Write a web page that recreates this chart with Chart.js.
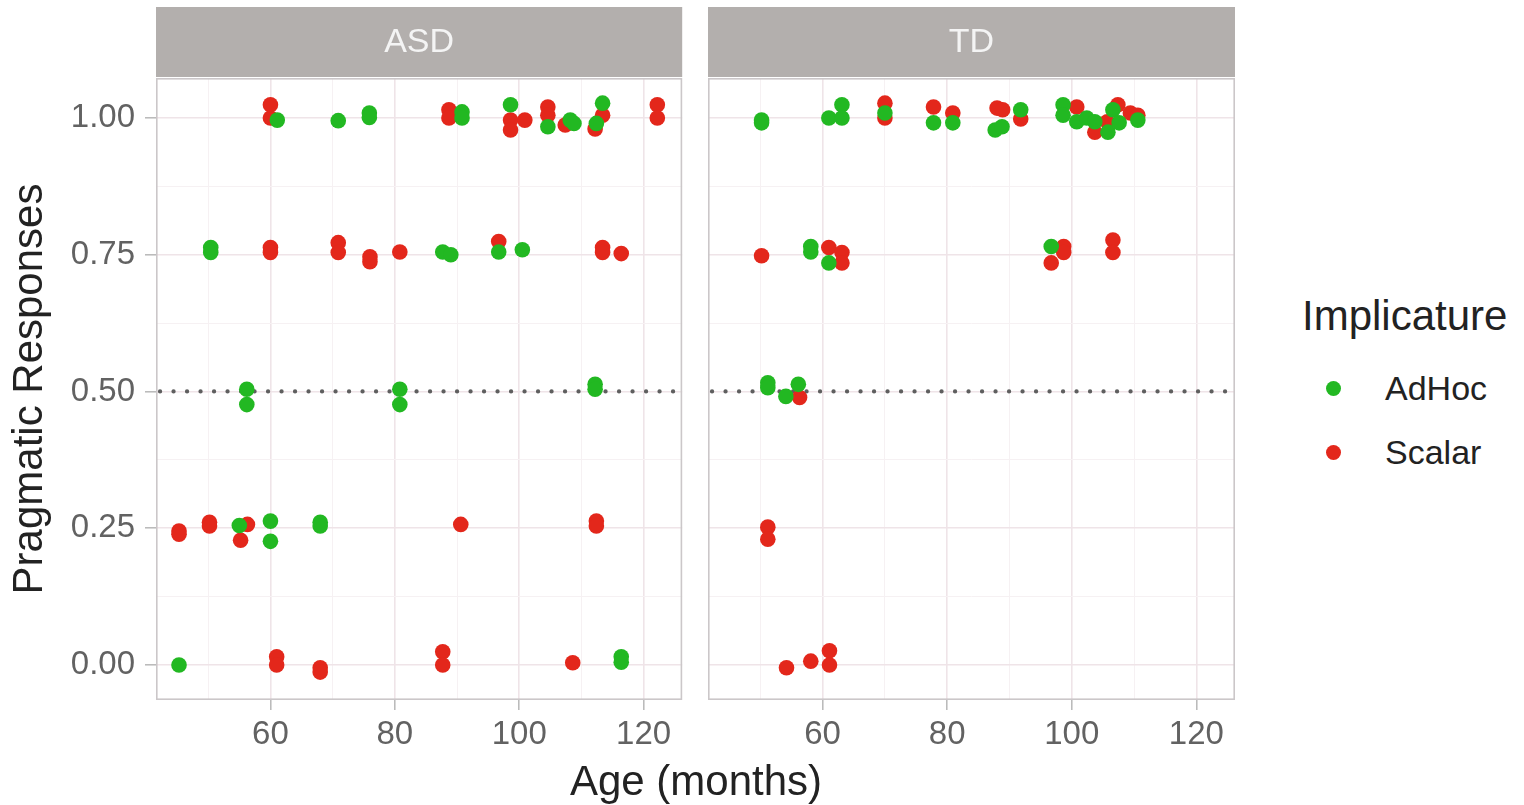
<!DOCTYPE html>
<html>
<head>
<meta charset="utf-8">
<title>Pragmatic responses by age</title>
<script src="https://cdn.jsdelivr.net/npm/chart.js@4.4.1/dist/chart.umd.min.js"></script>
<style>
  html, body { margin: 0; padding: 0; background: #ffffff; }
  body { width: 1524px; height: 805px; overflow: hidden; font-family: "Liberation Sans", Arial, sans-serif; }
  #fig { position: relative; width: 1524px; height: 805px; }
  #fig canvas { position: absolute; top: 0; }
  #xtitle { position: absolute; left: 0; width: 1392px; top: 757px; text-align: center;
            font-size: 42px; line-height: 48px; color: #222; }
  #legend { position: absolute; left: 1302px; top: 290px; color: #222; }
  #legend .ttl { font-size: 42px; line-height: 52px; margin-bottom: 14px; }
  #legend .item { position: relative; height: 64px; font-size: 34px; line-height: 64px; padding-left: 83px; }
  #legend .dot { position: absolute; left: 24px; top: 25px; width: 15px; height: 15px; border-radius: 50%; }
</style>
</head>
<body>
<div id="fig">
  <canvas id="asd" width="690" height="805" style="left:0px"></canvas>
  <canvas id="td" width="560" height="805" style="left:690px"></canvas>
  <div id="xtitle">Age (months)</div>
  <div id="legend"></div>
</div>
<script>
// ---- data: jittered observations (age in months, proportion of pragmatic responses)
const PANELS = ['ASD', 'TD'];
const SERIES = ['AdHoc', 'Scalar'];
const SERIES_COLORS = ['#22b822', '#e3271b'];

const ASD_ADHOC_AGE  = [61.1, 70.9, 75.9, 75.9, 90.8, 90.8, 98.6, 104.6, 108.2, 108.8, 113.4, 112.4,
                        50.4, 50.4, 87.7, 89.0, 96.7, 100.5,
                        56.2, 56.2, 80.8, 80.8, 112.2, 112.2,
                        55.0, 60.0, 60.0, 68.0, 68.0,
                        45.3, 116.4, 116.4];
const ASD_ADHOC_RESP = [0.996, 0.995, 1.009, 1.001, 1.011, 1.000, 1.024, 0.984, 0.996, 0.990, 1.027, 0.990,
                        0.763, 0.754, 0.755, 0.750, 0.755, 0.759,
                        0.504, 0.476, 0.504, 0.476, 0.513, 0.504,
                        0.255, 0.263, 0.226, 0.261, 0.254,
                        0.000, 0.015, 0.005];

const ASD_SCALAR_AGE  = [60.0, 60.0, 88.7, 88.7, 98.6, 98.6, 100.9, 104.6, 104.6, 107.4, 113.4, 112.2, 122.2, 122.2,
                         60.0, 60.0, 70.9, 70.9, 76.0, 76.0, 80.8, 96.7, 113.4, 113.4, 116.4,
                         45.3, 45.3, 50.2, 50.2, 56.3, 55.2, 90.6, 112.4, 112.4,
                         61.0, 61.0, 68.0, 68.0, 87.7, 87.7, 108.6];
const ASD_SCALAR_RESP = [1.024, 1.000, 1.015, 1.000, 0.996, 0.978, 0.996, 1.020, 1.005, 0.987, 1.005, 0.980, 1.024, 1.000,
                         0.763, 0.754, 0.772, 0.754, 0.746, 0.737, 0.755, 0.774, 0.763, 0.754, 0.752,
                         0.245, 0.239, 0.261, 0.254, 0.257, 0.228, 0.257, 0.263, 0.254,
                         0.015, 0.000, -0.005, -0.013, 0.024, 0.000, 0.004];

const TD_ADHOC_AGE  = [50.2, 50.2, 61.0, 63.1, 63.1, 70.0, 77.8, 80.9, 87.7, 88.8, 91.8, 98.6, 98.6, 100.8,
                       102.4, 103.7, 105.8, 106.6, 107.6, 110.6,
                       58.1, 58.1, 61.0, 96.7,
                       51.2, 51.2, 54.1, 56.1];
const TD_ADHOC_RESP = [0.996, 0.991, 1.000, 1.024, 1.000, 1.009, 0.991, 0.991, 0.978, 0.984, 1.015, 1.024, 1.005, 0.993,
                       1.000, 0.993, 0.974, 1.015, 0.991, 0.996,
                       0.765, 0.755, 0.735, 0.765,
                       0.516, 0.507, 0.491, 0.513];

const TD_SCALAR_AGE  = [70.0, 70.0, 77.8, 80.9, 88.0, 88.9, 91.8, 100.8, 103.7, 105.7, 107.4, 109.4, 110.6,
                        50.2, 61.0, 63.1, 63.1, 96.7, 98.7, 98.7, 106.6, 106.6,
                        56.3,
                        51.2, 51.2,
                        54.2, 58.1, 61.1, 61.1];
const TD_SCALAR_RESP = [1.027, 1.000, 1.020, 1.009, 1.018, 1.015, 0.998, 1.020, 0.974, 0.993, 1.024, 1.009, 1.005,
                        0.748, 0.763, 0.754, 0.735, 0.735, 0.765, 0.754, 0.777, 0.754,
                        0.489,
                        0.252, 0.230,
                        -0.005, 0.007, 0.026, 0.000];

// ---- axes
const X_RANGE = [41.6, 126.2];
const X_TICKS = [60, 80, 100, 120];
const X_TICK_LABELS = ['60', '80', '100', '120'];
const X_MINOR = [50, 70, 90, 110];
const Y_RANGE = [-0.064, 1.073];
const Y_TICKS = [0, 0.25, 0.5, 0.75, 1];
const Y_TICK_LABELS = ['0.00', '0.25', '0.50', '0.75', '1.00'];
const Y_MINOR = [0.125, 0.375, 0.625, 0.875];
const REF_LEVEL = 0.5;

// ---- styling
const FONT = '"Liberation Sans", Arial, sans-serif';
const STRIP_FILL = '#b3afad';
const GRID_MAJOR = '#efe4e8';
const GRID_MINOR = '#f6f1f3';
const PANEL_BORDER = '#cbc7c9';
const TICK_COLOR = '#b8b8b8';
const TEXT_COLOR = '#626262';

const zip = (xs, ys) => xs.map((x, i) => ({ x: x, y: ys[i] }));
const PANEL_DATA = {
  ASD: [zip(ASD_ADHOC_AGE, ASD_ADHOC_RESP), zip(ASD_SCALAR_AGE, ASD_SCALAR_RESP)],
  TD:  [zip(TD_ADHOC_AGE, TD_ADHOC_RESP),   zip(TD_SCALAR_AGE, TD_SCALAR_RESP)]
};

// facet strip, panel frame and the dotted reference line
const facetDecor = {
  id: 'facetDecor',
  beforeDraw(chart, args, opts) {
    const { ctx, chartArea: a } = chart;
    ctx.save();
    ctx.fillStyle = STRIP_FILL;
    ctx.fillRect(a.left, a.top - 71, a.right - a.left, 70);
    ctx.fillStyle = '#f4f4f4';
    ctx.font = '34px ' + FONT;
    ctx.textAlign = 'center';
    ctx.textBaseline = 'middle';
    ctx.fillText(opts.label, (a.left + a.right) / 2, a.top - 35);
    ctx.restore();
  },
  beforeDatasetsDraw(chart) {
    const { ctx, chartArea: a } = chart;
    const y = chart.scales.y.getPixelForValue(REF_LEVEL);
    ctx.save();
    ctx.strokeStyle = PANEL_BORDER;
    ctx.lineWidth = 1.6;
    ctx.strokeRect(a.left + 0.8, a.top + 0.8, a.right - a.left - 1.6, a.bottom - a.top - 1.6);
    ctx.beginPath();
    ctx.setLineDash([0.1, 13.4]);
    ctx.lineCap = 'round';
    ctx.lineWidth = 4.2;
    ctx.strokeStyle = '#5f5f5f';
    ctx.moveTo(a.left + 4, y);
    ctx.lineTo(a.right, y);
    ctx.stroke();
    ctx.restore();
  }
};

function buildChart(canvasId, panel, showY) {
  const data = PANEL_DATA[panel];
  const isMajorX = v => X_TICKS.includes(v);
  const isMajorY = v => Y_TICKS.some(t => Math.abs(t - v) < 1e-9);
  return new Chart(document.getElementById(canvasId), {
    type: 'scatter',
    data: {
      datasets: SERIES.map((name, i) => ({
        label: name,
        data: data[i],
        backgroundColor: SERIES_COLORS[i],
        borderWidth: 0,
        pointRadius: 7.8,
        pointHoverRadius: 7.8
      }))
    },
    options: {
      responsive: false,
      animation: false,
      events: [],
      devicePixelRatio: 1,
      layout: { padding: { top: 78, right: showY ? 6 : 15, left: 0, bottom: 0 } },
      plugins: {
        legend: { display: false },
        tooltip: { enabled: false },
        facetDecor: { label: panel }
      },
      scales: {
        x: {
          type: 'linear',
          min: X_RANGE[0], max: X_RANGE[1],
          afterBuildTicks: s => { s.ticks = X_MINOR.concat(X_TICKS).sort((a, b) => a - b).map(v => ({ value: v })); },
          afterFit: s => { s.height = 105; },
          border: { display: false },
          grid: {
            color: c => isMajorX(c.tick.value) ? GRID_MAJOR : GRID_MINOR,
            lineWidth: c => isMajorX(c.tick.value) ? 1.6 : 1,
            tickColor: c => isMajorX(c.tick.value) ? TICK_COLOR : 'rgba(0,0,0,0)',
            tickLength: 10,
            tickWidth: 1.5
          },
          ticks: {
            autoSkip: false,
            maxRotation: 0,
            padding: 5,
            color: TEXT_COLOR,
            font: { family: FONT, size: 33 },
            callback: v => { const k = X_TICKS.indexOf(v); return k < 0 ? '' : X_TICK_LABELS[k]; }
          }
        },
        y: {
          type: 'linear',
          min: Y_RANGE[0], max: Y_RANGE[1],
          afterBuildTicks: s => { s.ticks = Y_MINOR.concat(Y_TICKS).sort((a, b) => a - b).map(v => ({ value: v })); },
          afterFit: s => { s.width = showY ? 156 : 18; },
          border: { display: false },
          grid: {
            color: c => isMajorY(c.tick.value) ? GRID_MAJOR : GRID_MINOR,
            lineWidth: c => isMajorY(c.tick.value) ? 1.6 : 1,
            tickColor: c => isMajorY(c.tick.value) ? TICK_COLOR : 'rgba(0,0,0,0)',
            tickLength: 11,
            tickWidth: 1.5,
            drawTicks: showY
          },
          ticks: {
            display: showY,
            autoSkip: false,
            padding: 10,
            color: TEXT_COLOR,
            font: { family: FONT, size: 33 },
            callback: v => { const k = Y_TICKS.findIndex(t => Math.abs(t - v) < 1e-9); return k < 0 ? '' : Y_TICK_LABELS[k]; }
          },
          title: {
            display: showY,
            text: 'Pragmatic Responses',
            color: '#222222',
            font: { family: FONT, size: 42 },
            padding: { top: 5, bottom: 0 }
          }
        }
      }
    },
    plugins: [facetDecor]
  });
}

buildChart('asd', PANELS[0], true);
buildChart('td', PANELS[1], false);

// legend for the colour scale
const legend = document.getElementById('legend');
legend.innerHTML = '<div class="ttl">Implicature</div>' +
  SERIES.map((s, i) => '<div class="item"><span class="dot" style="background:' + SERIES_COLORS[i] + '"></span>' + s + '</div>').join('');
</script>
</body>
</html>
